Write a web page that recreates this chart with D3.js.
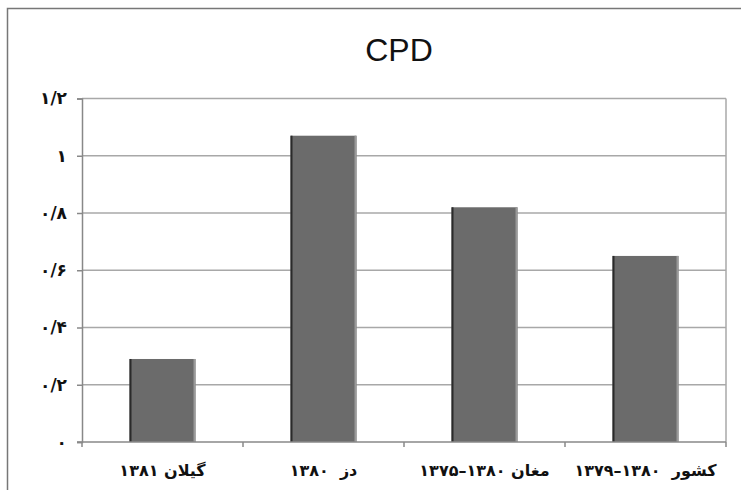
<!DOCTYPE html>
<html>
<head>
<meta charset="utf-8">
<script src="https://cdn.jsdelivr.net/npm/d3@7"></script>
<style>
  body { margin: 0; background: #fff; }
</style>
</head>
<body>
<div id="chart"></div>
<script>
// CPD bar chart - four regions
var categories = ["گیلان ۱۳۸۱", "دز  ۱۳۸۰", "مغان ۱۳۸۰–۱۳۷۵", "کشور  ۱۳۸۰–۱۳۷۹"];
var cpdValues = [0.29, 1.07, 0.82, 0.65];
var yTicks = [0, 0.2, 0.4, 0.6, 0.8, 1, 1.2];
var yTickLabels = ["۰", "۰/۲", "۰/۴", "۰/۶", "۰/۸", "۱", "۱/۲"];

var svgWidth = 741;
var svgHeight = 490;
var margin = { top: 98.5, right: 15, bottom: 48, left: 82 };
var chartWidth = svgWidth - margin.left - margin.right;
var chartHeight = svgHeight - margin.top - margin.bottom;

var svg = d3.select("#chart").append("svg")
  .attr("width", svgWidth)
  .attr("height", svgHeight);

// outer frame
svg.append("rect")
  .attr("x", 7.5).attr("y", 8.5)
  .attr("width", 760).attr("height", 520)
  .attr("fill", "none")
  .attr("stroke", "#777")
  .attr("stroke-width", 1.5);

svg.append("text")
  .attr("x", 399).attr("y", 61)
  .attr("text-anchor", "middle")
  .attr("font-family", "Liberation Sans, Arial, sans-serif")
  .attr("font-size", 32)
  .attr("fill", "#111")
  .text("CPD");

var chartGroup = svg.append("g")
  .attr("transform", `translate(${margin.left}, ${margin.top})`);

var yScale = d3.scaleLinear()
  .domain([0, 1.2])
  .range([chartHeight, 0]);

var xScale = d3.scaleBand()
  .domain(categories)
  .range([0, chartWidth])
  .paddingInner(0.59)
  .paddingOuter(0.295);

// gridlines
chartGroup.selectAll(".grid")
  .data(yTicks.slice(1))
  .enter()
  .append("line")
  .attr("x1", 0).attr("x2", chartWidth)
  .attr("y1", d => yScale(d)).attr("y2", d => yScale(d))
  .attr("stroke", "#a8a8a8")
  .attr("stroke-width", 1.5);

// right edge of plot
chartGroup.append("line")
  .attr("x1", chartWidth).attr("x2", chartWidth)
  .attr("y1", 0).attr("y2", chartHeight)
  .attr("stroke", "#a8a8a8")
  .attr("stroke-width", 1.5);

// y axis
var yAxis = d3.axisLeft(yScale)
  .tickValues(yTicks)
  .tickSize(5)
  .tickPadding(10)
  .tickFormat((d, i) => yTickLabels[i]);

var yG = chartGroup.append("g").call(yAxis);
yG.select(".domain").attr("stroke", "#888").attr("stroke-width", 1.5);
yG.selectAll(".tick line").attr("stroke", "#888").attr("stroke-width", 1.5);
yG.selectAll(".tick text")
  .attr("font-family", "DejaVu Sans, sans-serif")
  .attr("font-size", 17)
  .attr("font-weight", "bold")
  .attr("fill", "#111");

// bars
var bars = chartGroup.selectAll(".bar")
  .data(cpdValues)
  .enter()
  .append("g")
  .classed("bar", true);

bars.append("rect")
  .attr("x", (d, i) => xScale(categories[i]))
  .attr("y", d => yScale(d))
  .attr("width", xScale.bandwidth())
  .attr("height", d => chartHeight - yScale(d))
  .attr("fill", "#6b6b6b");

bars.append("rect")
  .attr("x", (d, i) => xScale(categories[i]))
  .attr("y", d => yScale(d))
  .attr("width", 2)
  .attr("height", d => chartHeight - yScale(d))
  .attr("fill", "#2a2a2a");

bars.append("rect")
  .attr("x", (d, i) => xScale(categories[i]) + xScale.bandwidth() - 2)
  .attr("y", d => yScale(d))
  .attr("width", 2)
  .attr("height", d => chartHeight - yScale(d))
  .attr("fill", "#9a9a9a");

// x axis with ticks at category boundaries
var xAxisLine = chartGroup.append("g")
  .attr("transform", `translate(0, ${chartHeight})`);

xAxisLine.append("line")
  .attr("x1", -5).attr("x2", chartWidth)
  .attr("y1", 0).attr("y2", 0)
  .attr("stroke", "#888")
  .attr("stroke-width", 1.5);

var step = xScale.step();
xAxisLine.selectAll(".xtick")
  .data(d3.range(categories.length + 1))
  .enter()
  .append("line")
  .attr("x1", i => i * step).attr("x2", i => i * step)
  .attr("y1", 0).attr("y2", 5)
  .attr("stroke", "#888")
  .attr("stroke-width", 1.5);

xAxisLine.selectAll(".xlabel")
  .data(categories)
  .enter()
  .append("text")
  .attr("x", d => xScale(d) + xScale.bandwidth() / 2)
  .attr("y", 34)
  .attr("text-anchor", "middle")
  .attr("font-family", "DejaVu Sans, sans-serif")
  .attr("font-size", 16)
  .attr("font-weight", "bold")
  .attr("fill", "#111")
  .style("white-space", "pre")
  .text(d => d);
</script>
</body>
</html>
